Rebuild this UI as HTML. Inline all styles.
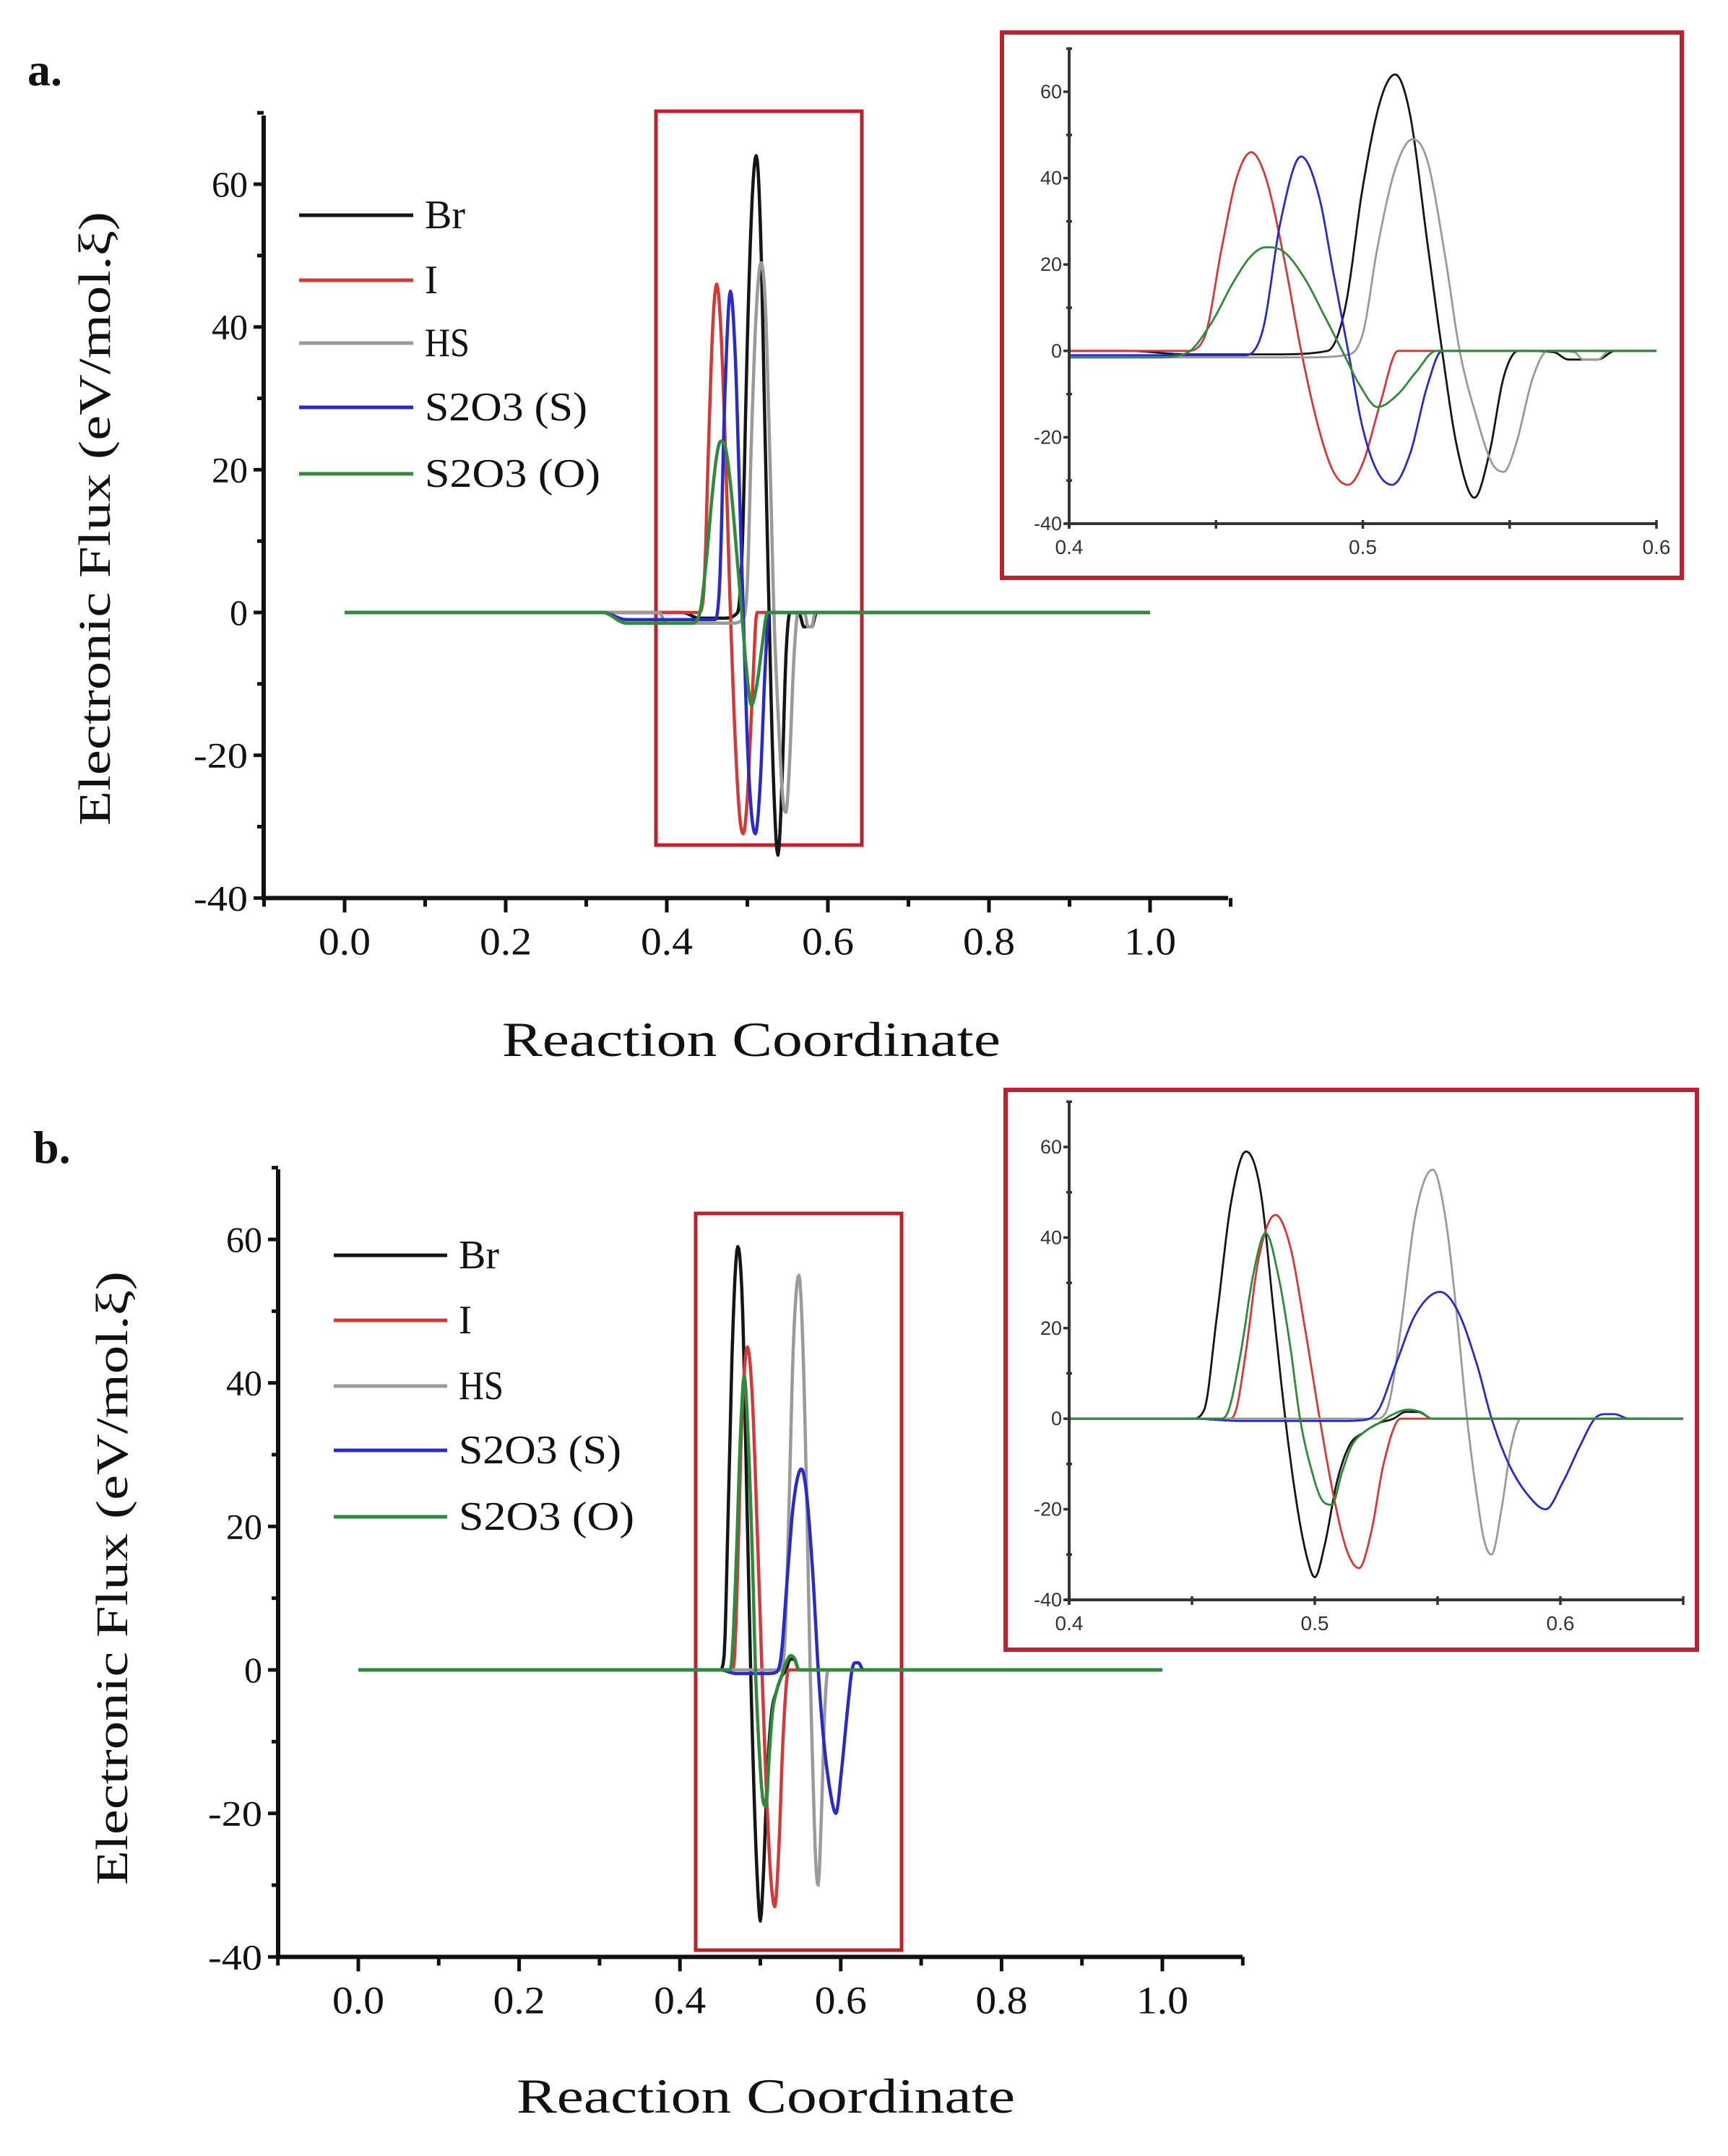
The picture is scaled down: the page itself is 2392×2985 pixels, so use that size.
<!DOCTYPE html>
<html><head><meta charset="utf-8"><style>
html,body{margin:0;padding:0;background:#fff;}
svg{display:block;}
</style></head><body>
<svg id="fig" xmlns="http://www.w3.org/2000/svg" width="2392" height="2985" viewBox="0 0 2392 2985">
<rect width="2392" height="2985" fill="#fff"/>
</svg>
<script>
// ---------- data (panel a) ----------
const seriesNames = ["Br","I","HS","S2O3 (S)","S2O3 (O)"];
const xBrA = [0,0.42,0.44,0.47,0.488,0.494,0.50,0.506,0.511,0.516,0.522,0.527,0.532,0.538,0.543,0.548,0.553,0.565,0.570,0.580,0.586,1.0];
const yBrA = [0,0,-0.8,-0.8,0,10,38,58,64,55,25,0,-22,-34,-24,-6,0,-0.3,-2,-2,0,0];
const xIA = [0,0.44,0.446,0.452,0.457,0.462,0.467,0.473,0.479,0.485,0.490,0.495,0.500,0.506,0.512,1.0];
const yIA = [0,0,3,24,40,46,40,22,0,-18,-28,-31,-26,-12,0,0];
const xHSA = [0,0.39,0.40,0.48,0.494,0.50,0.505,0.511,0.517,0.522,0.528,0.533,0.539,0.544,0.548,0.552,0.558,0.563,0.572,0.575,0.580,0.584,1.0];
const yHSA = [0,0,-1.5,-1.5,-1,4,24,42,49,44,22,0,-16,-26,-28,-22,-6,0,-0.3,-2,-2,0,0];
const xSSA = [0,0.32,0.35,0.43,0.46,0.466,0.472,0.479,0.485,0.490,0.495,0.500,0.505,0.510,0.516,0.522,0.527,1.0];
const ySSA = [0,0,-1,-1,-1,5,30,45,36,18,0,-18,-28,-31,-24,-8,0,0];
const xSOA = [0,0.32,0.35,0.43,0.44,0.448,0.456,0.462,0.467,0.473,0.480,0.487,0.493,0.499,0.505,0.512,0.518,0.525,1.0];
const ySOA = [0,0,-1.5,-1.5,-0.5,6,16,22,24,23,17,8,0,-8,-13,-10,-5,0,0];
// ---------- data (panel b) ----------
const xBrB = [0,0.45,0.455,0.46,0.466,0.472,0.478,0.483,0.488,0.493,0.497,0.50,0.504,0.509,0.514,0.52,0.526,0.532,0.537,0.542,0.548,1.0];
const yBrB = [0,0,2,22,48,59,50,25,0,-20,-31,-35,-28,-14,-6,-3,-1,0,1.5,1.5,0,0];
const xIB = [0,0.465,0.468,0.472,0.477,0.484,0.490,0.496,0.502,0.508,0.513,0.518,0.523,0.528,0.535,1.0];
const yIB = [0,0,2,15,35,45,38,20,0,-18,-29,-33,-25,-10,0,0];
const xHSB = [0,0.525,0.53,0.535,0.541,0.548,0.553,0.558,0.562,0.566,0.569,0.572,0.576,0.58,0.584,1.0];
const yHSB = [0,0,3,20,45,55,45,22,0,-17,-27,-30,-20,-6,0,0];
const xSSB = [0,0.45,0.47,0.51,0.52,0.526,0.533,0.541,0.551,0.558,0.566,0.572,0.579,0.587,0.594,0.601,0.608,0.614,0.618,0.622,0.628,1.0];
const ySSB = [0,0,-0.5,-0.5,-0.3,2,12,23,28,24,12,0,-10,-17,-20,-14,-6,0,1,1,0,0];
const xSOB = [0,0.462,0.465,0.47,0.475,0.48,0.485,0.49,0.494,0.499,0.503,0.507,0.511,0.515,0.52,0.526,0.532,0.538,0.543,0.548,1.0];
const ySOB = [0,0,2,15,32,41,32,16,0,-12,-18,-19,-12,-6,-3,-1,1,2,1.5,0,0];
// ---------- ticks ----------
const mainXTicks = [0.0,0.2,0.4,0.6,0.8,1.0];
const mainXLabels = ["0.0","0.2","0.4","0.6","0.8","1.0"];
const mainYTicks = [-40,-20,0,20,40,60];
const mainYLabels = ["-40","-20","0","20","40","60"];
const insetYTicks = [-40,-20,0,20,40,60];
const insetYLabels = ["-40","-20","0","20","40","60"];
const insetXTicks = [0.4,0.5,0.6];
const insetXLabels = ["0.4","0.5","0.6"];

const colors = ["#151515","#d23a3a","#9a9a9a","#2a2ac4","#2f8a3c"];
const NS = "http://www.w3.org/2000/svg";
const svg = document.getElementById('fig');
function el(tag, attrs, parent){
  const e = document.createElementNS(NS, tag);
  for (const k in attrs) e.setAttribute(k, attrs[k]);
  (parent||svg).appendChild(e);
  return e;
}
function txt(s, x, y, size, opts, parent){
  const t = document.createElementNS(NS,'text');
  t.setAttribute('x', x); t.setAttribute('y', y);
  t.setAttribute('font-size', size);
  t.setAttribute('font-family', opts.family || '"Liberation Serif", serif');
  t.setAttribute('fill', opts.fill || '#111');
  t.setAttribute('text-anchor', opts.anchor || 'middle');
  if (opts.len) { t.setAttribute('textLength', opts.len); t.setAttribute('lengthAdjust','spacingAndGlyphs'); }
  if (opts.weight) t.setAttribute('font-weight', opts.weight);
  if (opts.transform) t.setAttribute('transform', opts.transform);
  t.textContent = s;
  (parent||svg).appendChild(t);
  return t;
}
function monoInterp(xs, ys){
  const n = xs.length, d = [], m = new Array(n);
  for (let i=0;i<n-1;i++) d.push((ys[i+1]-ys[i])/(xs[i+1]-xs[i]));
  m[0]=d[0]; m[n-1]=d[n-2];
  for (let i=1;i<n-1;i++) m[i] = (d[i-1]*d[i] <= 0) ? 0 : (d[i-1]+d[i])/2;
  for (let i=0;i<n-1;i++){
    if (d[i]===0){ m[i]=0; m[i+1]=0; continue; }
    const a=m[i]/d[i], b=m[i+1]/d[i], s=a*a+b*b;
    if (s>9){ const t=3/Math.sqrt(s); m[i]=t*a*d[i]; m[i+1]=t*b*d[i]; }
  }
  return function(x){
    let i=0; while (i<n-2 && x>xs[i+1]) i++;
    const h=xs[i+1]-xs[i], t=(x-xs[i])/h, t2=t*t, t3=t2*t;
    return (2*t3-3*t2+1)*ys[i] + (t3-2*t2+t)*h*m[i] + (-2*t3+3*t2)*ys[i+1] + (t3-t2)*h*m[i+1];
  };
}
function scale(d0,d1,r0,r1){ return v => r0 + (v-d0)/(d1-d0)*(r1-r0); }

function drawSeries(g, xs, ys, sx, sy, color, width, name){
  const f = monoInterp(xs, ys);
  const pts = [];
  for (let i=0;i<xs.length-1;i++){
    const steps = Math.max(1, Math.ceil((sx(xs[i+1])-sx(xs[i]))/1.5));
    const nsteps = (xs[i+1]-xs[i] > 0.1) ? 1 : steps;
    for (let k=0;k<nsteps;k++){
      const x = xs[i] + (xs[i+1]-xs[i])*k/nsteps;
      pts.push(sx(x).toFixed(1)+','+sy(f(x)).toFixed(1));
    }
  }
  pts.push(sx(xs[xs.length-1]).toFixed(1)+','+sy(ys[ys.length-1]).toFixed(1));
  const p = el('polyline', {points: pts.join(' '), fill:'none', stroke:color, 'stroke-width':width, 'stroke-linejoin':'round'}, g);
  
  
}

function mainPanel(cfg){
  const g = el('g', {});
  
  
  const sx = scale(0, 1, cfg.x0, cfg.x1);
  const sy = scale(0, 60, cfg.y0, cfg.y60);
  const left = cfg.axisLeft, bottom = sy(-40), right = cfg.axisRight, top = cfg.axisTop;
  const box = el('rect', {x:cfg.box[0], y:cfg.box[1], width:cfg.box[2]-cfg.box[0], height:cfg.box[3]-cfg.box[1], fill:'none', stroke:'#b8232e', 'stroke-width':5}, g);
  
  
  cfg.data.forEach((s,i)=> drawSeries(g, s[0], s[1], sx, sy, colors[i], 4.5, cfg.id + '-series-' + i));
  const ax = el('g', {stroke:'#111', 'stroke-width':6, fill:'none'}, g);
  
  
  el('line', {x1:left, y1:top, x2:left, y2:bottom+3}, ax);
  el('line', {x1:left-3, y1:bottom, x2:right, y2:bottom}, ax);
  for (let v=-40; v<=70; v+=10){
    const major = v%20===0;
    el('line', {x1:left-(major?14:9), y1:sy(v), x2:left, y2:sy(v), 'stroke-width':5}, ax);
  }
  for (let v=-0.1; v<=1.1001; v+=0.1){
    const major = Math.round(v*10)%2===0;
    el('line', {x1:sx(v), y1:bottom, x2:sx(v), y2:bottom+(major?20:12), 'stroke-width':5}, ax);
  }
  mainYTicks.forEach((v,i)=>{
    const t = txt(mainYLabels[i], left-22, sy(v)+17, 50, {anchor:'end', len: mainYLabels[i].length*25}, g);
    
    
  });
  mainXTicks.forEach((v,i)=>{
    const t = txt(mainXLabels[i], sx(v), bottom+78, 54, {len: 72}, g);
    
    
  });
  const yt = txt('Electronic Flux (eV/mol.ξ)', 0, 0, 62, {len: 850, transform:'translate('+(cfg.ytx)+','+cfg.yty+') rotate(-90)'}, g);
  
  
  const xt = txt('Reaction Coordinate', cfg.xtx, cfg.xty, 68, {len: 690}, g);
  
  
  const pl = txt(cfg.id + '.', cfg.label[0], cfg.label[1], 64, {anchor:'start', weight:'bold'}, g);
  
  
  const lg = el('g', {}, g);
  
  
  seriesNames.forEach((n,i)=>{
    const y = cfg.legendRows[i];
    const ln = el('line', {x1:cfg.legendX[0], y1:y, x2:cfg.legendX[1], y2:y, stroke:colors[i], 'stroke-width':5}, lg);
    
    
    const t = txt(n, cfg.legendX[1]+16, y+18, 56, {anchor:'start', len: [56,18,62,225,243][i]}, lg);
    
    
  });
}

function insetPanel(cfg){
  const g = el('g', {});
  
  
  const box = el('rect', {x:cfg.box[0], y:cfg.box[1], width:cfg.box[2]-cfg.box[0], height:cfg.box[3]-cfg.box[1], fill:'#fff', stroke:'#b8232e', 'stroke-width':6}, g);
  
  
  const sx = scale(0.4, 0.5, cfg.x04, cfg.x05);
  const sy = scale(-40, 60, cfg.ym40, cfg.y60);
  const left = sx(0.4), right = sx(cfg.xmax), bottom = sy(-40), top = sy(70);
  const cp = el('clipPath', {id:'clip-'+cfg.id}, g);
  el('rect', {x:left, y:top, width:right-left, height:bottom-top}, cp);
  const sg = el('g', {'clip-path':'url(#clip-'+cfg.id+')'}, g);
  cfg.data.forEach((s,i)=> drawSeries(sg, s[0], s[1], sx, sy, colors[i], 2.8, cfg.id + '-inset-series-' + i));
  const ax = el('g', {stroke:'#333', 'stroke-width':4, fill:'none'}, g);
  
  
  el('line', {x1:left, y1:top, x2:left, y2:bottom+6}, ax);
  el('line', {x1:left-6, y1:bottom, x2:right, y2:bottom}, ax);
  for (let v=-40; v<=70; v+=10){
    const major = v%20===0;
    el('line', {x1:left-(major?8:4), y1:sy(v), x2:left+(major?2:4), y2:sy(v), 'stroke-width':3.5}, ax);
  }
  for (let v=0.4; v<=cfg.xmax+0.0001; v+=0.05){
    el('line', {x1:sx(v), y1:bottom-5, x2:sx(v), y2:bottom+7, 'stroke-width':3.5}, ax);
  }
  insetYTicks.forEach((v,i)=>{
    const t = txt(insetYLabels[i], left-10, sy(v)+9, 27, {anchor:'end', family:'"Liberation Sans", sans-serif', fill:'#333'}, g);
    
    
  });
  insetXTicks.forEach((v,i)=>{
    const t = txt(insetXLabels[i], sx(v), bottom+42, 28, {family:'"Liberation Sans", sans-serif', fill:'#333'}, g);
    
    
  });
}

const dataA = [[xBrA,yBrA],[xIA,yIA],[xHSA,yHSA],[xSSA,ySSA],[xSOA,ySOA]];
const dataB = [[xBrB,yBrB],[xIB,yIB],[xHSB,yHSB],[xSSB,ySSB],[xSOB,ySOB]];

mainPanel({id:'a', data:dataA, x0:477, x1:1592, y0:848, y60:255,
  axisLeft:365, axisRight:1700, axisTop:160,
  box:[908,154,1193,1170], ytx:152, yty:718, xtx:1040, xty:1462,
  label:[38,118], legendRows:[298,388,475,564,656], legendX:[414,572]});
insetPanel({id:'a', data:dataA, box:[1387,45,2328,800], x04:1480, x05:1886.5, ym40:725, y60:127, xmax:0.6});

mainPanel({id:'b', data:dataB, x0:496, x1:1609, y0:2312, y60:1716,
  axisLeft:385, axisRight:1720, axisTop:1619,
  box:[963,1680,1248,2700], ytx:176, yty:2185, xtx:1060, xty:2925,
  label:[46,1610], legendRows:[1738,1828,1919,2008,2100], legendX:[462,619]});
insetPanel({id:'b', data:dataB, box:[1392,1509,2349,2284], x04:1480, x05:1820, ym40:2215, y60:1588, xmax:0.65});
</script>
</body></html>
